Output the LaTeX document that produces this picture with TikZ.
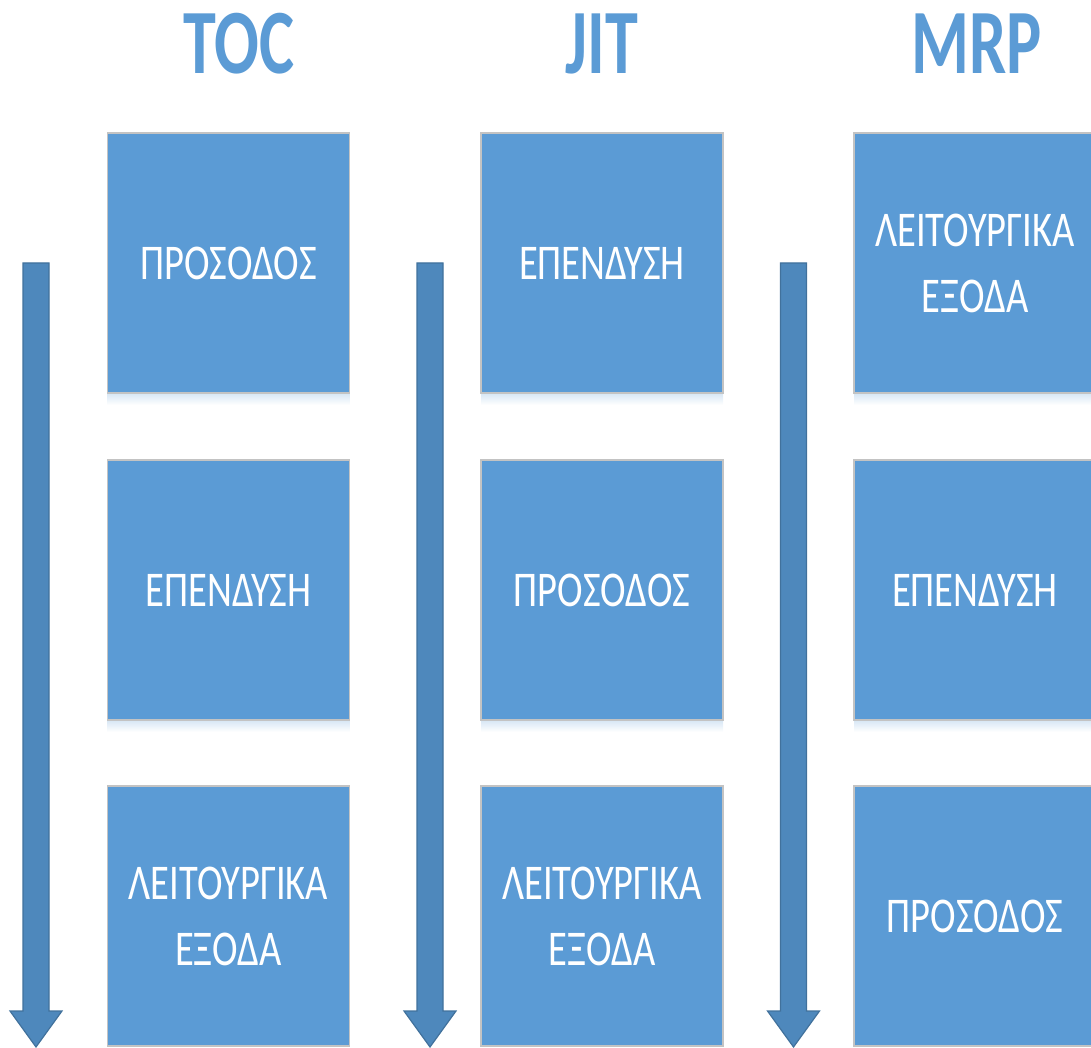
\documentclass[tikz,border=0pt]{standalone}
\usepackage{fontspec}
\setmainfont{Carlito}[FakeStretch=0.72]
\newfontfamily\boxfont{Carlito}[FakeStretch=0.77]
\usetikzlibrary{positioning}
\definecolor{boxblue}{HTML}{5B9BD5}
\definecolor{boxgray}{HTML}{C3C3C3}
\definecolor{arrowblue}{HTML}{4E88BC}
\definecolor{arrowedge}{HTML}{41719C}

\begin{document}
\begin{tikzpicture}[x=1pt,y=-1pt,
  box/.style={draw=boxgray,line width=1.5pt,fill=boxblue,minimum width=242pt,minimum height=260pt,
    inner sep=0pt,text=white,align=center,font={\boxfont\fontsize{50}{66}\selectfont}},
  title/.style={anchor=base,text=boxblue,font={\fontsize{92}{92}\selectfont\bfseries}},
  downarrow/.style={fill=arrowblue,draw=arrowedge,line width=1.2pt,line join=miter}]
\clip (0,0) rectangle (1091,1048);

% soft shade under each box
\foreach \bx in {228.5,602,975}
  \foreach \by in {393,720}
    \shade[top color=boxblue!25,bottom color=white] (\bx-121,\by) rectangle (\bx+121,\by+12);

% column heads
\node[title] (toc) at (239,74) {TOC};
\node[title] (jit) at (602,74) {JIT};
\node[title] (mrp) at (977,74) {MRP};

% TOC
\node[box] (toc1) at (228.5,263) {ΠΡΟΣΟΔΟΣ};
\node[box] (toc2) at (228.5,590) {ΕΠΕΝΔΥΣΗ};
\node[box] (toc3) at (228.5,916) {ΛΕΙΤΟΥΡΓΙΚΑ\\ΕΞΟΔΑ};

% JIT
\node[box] (jit1) at (602,263) {ΕΠΕΝΔΥΣΗ};
\node[box] (jit2) at (602,590) {ΠΡΟΣΟΔΟΣ};
\node[box] (jit3) at (602,916) {ΛΕΙΤΟΥΡΓΙΚΑ\\ΕΞΟΔΑ};

% MRP
\node[box] (mrp1) at (975,263) {ΛΕΙΤΟΥΡΓΙΚΑ\\ΕΞΟΔΑ};
\node[box] (mrp2) at (975,590) {ΕΠΕΝΔΥΣΗ};
\node[box] (mrp3) at (975,916) {ΠΡΟΣΟΔΟΣ};

% priority arrows
\foreach \ax in {36,430,793.5}
  \draw[downarrow] (\ax-13,263) -- (\ax+13,263) -- (\ax+13,1011) -- (\ax+26,1011)
    -- (\ax,1047) -- (\ax-26,1011) -- (\ax-13,1011) -- cycle;
\end{tikzpicture}
\end{document}
